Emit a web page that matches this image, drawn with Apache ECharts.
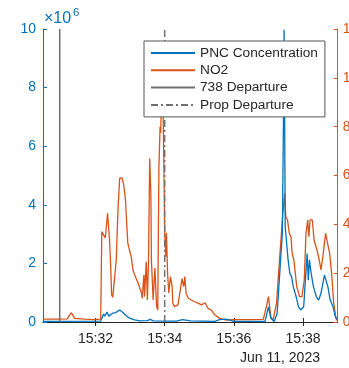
<!DOCTYPE html>
<html>
<head>
<meta charset="utf-8">
<script src="https://cdn.jsdelivr.net/npm/echarts@6.0.0/dist/echarts.min.js"></script>
<style>
    html, body { margin: 0; padding: 0; background: #fff; }
    #chart { width: 349px; height: 368px; }
</style>
</head>
<body>
<div id="chart"></div>
<script type="text/javascript">
    // time in seconds after 15:30:00, Jun 11 2023
    var no2Times = [29, 57, 71, 78, 84, 101, 118, 129, 131, 134, 137, 141, 144, 146, 148, 150, 153, 156, 159, 162, 165, 166, 169, 172, 176, 179,
        182, 185, 188, 191, 194, 197, 200, 201, 204, 205, 208, 210, 212, 214, 216, 217, 220, 223, 226, 228, 230, 232, 233, 234, 236, 237,
        239, 240, 242, 243, 245, 247, 250, 253, 254, 257, 263, 268, 270, 273, 275, 277, 281, 286, 292, 298, 304, 310, 315, 321, 327, 336,
        347, 358, 388, 411, 417, 420, 424, 428, 434, 440, 444, 448, 450, 453, 456, 459, 461, 464, 469, 474, 478, 482, 485, 488, 490, 492,
        496, 499, 504, 508, 511, 515, 519, 522, 526, 530, 533, 537, 540];
    var no2Values = [1.2, 1.2, 1.3, 3.8, 1.5, 1.2, 1.0, 1.2, 37, 37.4, 34.4, 44.5, 34.9, 25.4, 11.1, 10.1, 10.4, 25.4, 45.9, 58.9, 58.2, 59, 56.1, 50, 32.4, 29.5,
        26.7, 21.3, 19.3, 18.6, 15.9, 15.2, 11.8, 9.7, 19.3, 10.4, 24.7, 9.0, 25.4, 67, 52.8, 25.4, 9, 22.1, 6.3, 4.9, 63.6, 80, 77.4, 86, 84, 92,
        56.9, 36.5, 26.7, 36.5, 20.1, 11.9, 18.6, 14.5, 7.8, 6.3, 7, 14.5, 17.8, 14.5, 18.6, 11.8, 9.7, 9, 8.3, 7.7, 7, 7.9, 5.6, 4.9, 2.9, 1.5,
        0.8, 1.0, 1.0, 1.1, 7, 10.4, 2.2, 0.8, 7.8, 28.3, 41.8, 52.7, 43.1, 41.8, 36.3, 34.9, 28.1, 25.4, 14.5, 10.4, 10.4, 17.2, 36.3, 41.8, 34.9, 41.8,
        41.8, 33.6, 29.5, 25.4, 21.3, 28.1, 36.3, 36.3, 28.1, 18.6, 7.8, 1.5, 0.3];

    var pncTimes = [29, 129, 131, 134, 136, 140, 143, 146, 150, 155, 162, 166, 172, 179, 188, 197, 210, 215, 220, 240, 260, 271, 285, 327,
        330, 335, 341, 345, 352, 360, 380, 414, 420, 424, 430, 435, 441, 444, 446, 447, 448, 449, 452, 454, 457, 460, 463, 468, 472, 476,
        481, 484, 487, 489, 491, 494, 498, 503, 507, 511, 517, 520, 523, 527, 532, 536, 540];
    var pncValues = [0.02, 0.03, 0.13, 0.27, 0.2, 0.34, 0.2, 0.18, 0.3, 0.32, 0.41, 0.35, 0.24, 0.13, 0.07, 0.04, 0.05, 0.09, 0.04, 0.03, 0.03, 0.08, 0.04, 0.02,
        0.04, 0.08, 0.09, 0.1, 0.07, 0.02, 0.02, 0.02, 0.52, 0.13, 0.02, 0.3, 2.12, 3.03, 6.9, 9.97, 6.9, 3.25, 2.57, 2.12, 1.66, 1.55, 1.2, 0.86, 0.52, 0.41,
        0.52, 1.43, 2.34, 1.43, 2.12, 1.66, 1.2, 0.86, 0.75, 0.98, 1.6, 1.66, 1.2, 0.75, 0.52, 0.18, 0.07];

    var dep738Time = 58;
    var propDepTime = 240;

    var xTickValues = [120, 240, 360, 480];
    var xTickLabels = ['15:32', '15:34', '15:36', '15:38'];
    var dateLabel = 'Jun 11, 2023';

    var seriesNames = ['PNC Concentration', 'NO2', '738 Departure', 'Prop Departure'];

    var blue = '#0072BD';
    var orange = '#D95319';
    var grey = '#262626';
    var lineGrey = '#707070';
    var font = 'Liberation Sans, Arial, Helvetica, sans-serif';

    function pairs(ts, vs) {
        var out = [];
        for (var i = 0; i < ts.length; i++) out.push([ts[i], vs[i]]);
        return out;
    }

    var myChart = echarts.init(document.getElementById('chart'), null, {renderer: 'canvas'});

    var option = {
        animation: false,
        backgroundColor: '#fff',
        textStyle: {fontFamily: font},
        grid: {left: 43, right: 11.3, top: 29, bottom: 46, containLabel: false, outerBoundsMode: 'none'},
        legend: {
            data: seriesNames,
            orient: 'vertical',
            left: 144,
            top: 41,
            itemWidth: 44,
            itemHeight: 14,
            itemGap: 3.3,
            padding: [5, 7, 5, 6],
            backgroundColor: '#fff',
            borderColor: '#555',
            borderWidth: 1,
            itemStyle: {color: 'rgba(0,0,0,0)', borderWidth: 0, opacity: 0},
            textStyle: {color: grey, fontSize: 13.7, fontFamily: font},
            z: 10
        },
        xAxis: [
            {
                type: 'value', min: 29, max: 540, position: 'bottom',
                axisLine: {lineStyle: {color: grey, width: 1}},
                axisTick: {inside: true, length: 4, customValues: xTickValues, lineStyle: {color: grey}},
                axisLabel: {
                    customValues: xTickValues, color: grey, fontSize: 14, margin: 10, fontFamily: font,
                    formatter: function (v) {
                        var i = xTickValues.indexOf(v);
                        return i >= 0 ? xTickLabels[i] : '';
                    }
                },
                splitLine: {show: false}
            },
            {
                type: 'value', min: 29, max: 540, position: 'top',
                axisLine: {lineStyle: {color: grey, width: 1}},
                axisTick: {inside: true, length: 4, customValues: xTickValues, lineStyle: {color: grey}},
                axisLabel: {show: false},
                splitLine: {show: false}
            }
        ],
        yAxis: [
            {
                type: 'value', min: 0, max: 10, interval: 2, position: 'left',
                axisLine: {show: true, lineStyle: {color: blue}},
                axisTick: {show: true, inside: true, length: 4, lineStyle: {color: blue}},
                axisLabel: {color: blue, fontSize: 14, margin: 7, fontFamily: font},
                splitLine: {show: false}
            },
            {
                type: 'value', min: 0, max: 120, interval: 20, position: 'right',
                axisLine: {show: true, lineStyle: {color: orange}},
                axisTick: {show: true, inside: true, length: 4, lineStyle: {color: orange}},
                axisLabel: {color: orange, fontSize: 14, margin: 5, fontFamily: font},
                splitLine: {show: false}
            }
        ],
        graphic: [
            {type: 'text', x: 44, y: 19, style: {text: '×10', fill: blue, font: '16px ' + font, verticalAlign: 'middle'}},
            {type: 'text', x: 73, y: 13, style: {text: '6', fill: blue, font: '11.5px ' + font, verticalAlign: 'middle'}},
            {type: 'text', x: 280, y: 358, style: {text: dateLabel, fill: grey, font: '14px ' + font, align: 'center', verticalAlign: 'middle'}}
        ],
        series: [
            {
                name: 'NO2', type: 'line', yAxisIndex: 1, xAxisIndex: 0,
                data: pairs(no2Times, no2Values),
                symbol: 'none', showSymbol: false, color: orange,
                lineStyle: {color: orange, width: 1.3}, z: 2
            },
            {
                name: 'PNC Concentration', type: 'line', yAxisIndex: 0, xAxisIndex: 0,
                data: pairs(pncTimes, pncValues),
                symbol: 'none', showSymbol: false, color: blue,
                lineStyle: {color: blue, width: 1.3}, z: 3
            },
            {
                name: '738 Departure', type: 'line', yAxisIndex: 0, xAxisIndex: 0,
                data: [[dep738Time, 0], [dep738Time, 10]],
                symbol: 'none', showSymbol: false, color: lineGrey,
                lineStyle: {color: lineGrey, width: 1.5}, z: 4
            },
            {
                name: 'Prop Departure', type: 'line', yAxisIndex: 0, xAxisIndex: 0,
                data: [[propDepTime, 0], [propDepTime, 10]],
                symbol: 'none', showSymbol: false, color: lineGrey,
                lineStyle: {color: lineGrey, width: 1.5, type: [7, 3, 2, 3]}, z: 4
            }
        ]
    };

    myChart.setOption(option);
</script>
</body>
</html>
